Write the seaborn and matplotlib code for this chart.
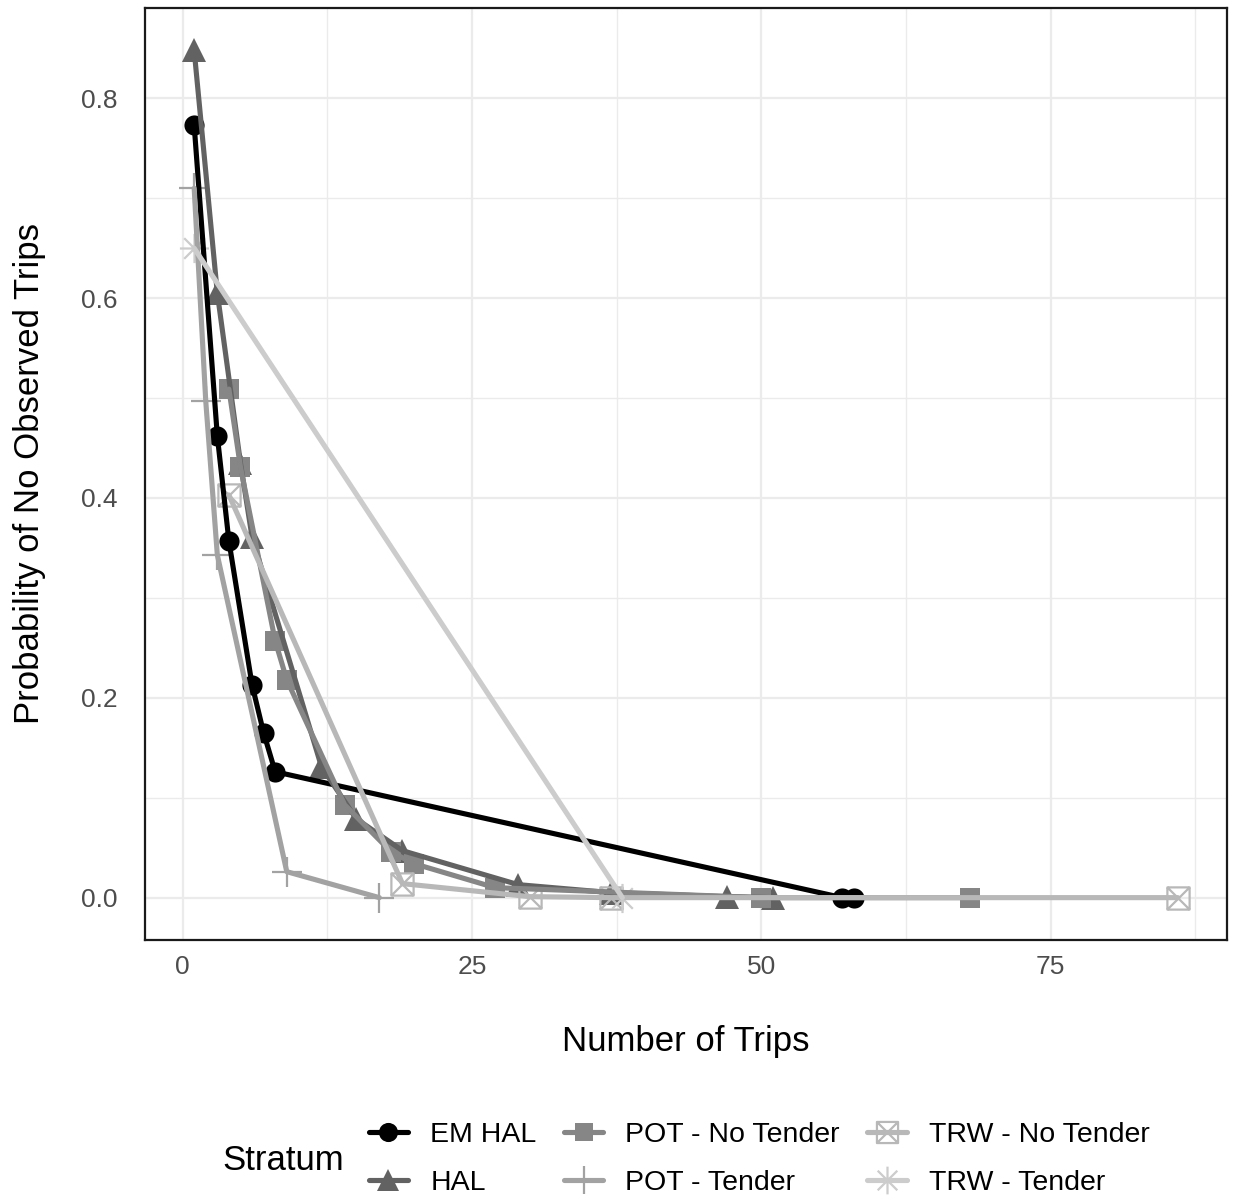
import numpy as np
import pandas as pd
import matplotlib
matplotlib.use("Agg")
import matplotlib.pyplot as plt
from matplotlib.path import Path
from matplotlib.lines import Line2D
from matplotlib.ticker import FixedLocator
import seaborn as sns

# ---- data -------------------------------------------------------------
strata = ["EM HAL", "HAL", "POT - No Tender", "POT - Tender",
          "TRW - No Tender", "TRW - Tender"]

em_hal_trips = [1, 3, 4, 6, 7, 8, 57, 58]
em_hal_prob = [0.773, 0.462, 0.357, 0.213, 0.165, 0.126, 0.0, 0.0]

hal_trips = [1, 3, 5, 6, 12, 15, 19, 29, 37, 47, 51]
hal_prob = [0.848, 0.605, 0.435, 0.361, 0.131, 0.079, 0.047, 0.013, 0.005, 0.001, 0.0]

pot_nt_trips = [4, 5, 8, 9, 14, 18, 20, 27, 50, 68]
pot_nt_prob = [0.509, 0.431, 0.257, 0.218, 0.093, 0.046, 0.034, 0.010, 0.0, 0.0]

pot_t_trips = [1, 2, 3, 9, 17]
pot_t_prob = [0.710, 0.497, 0.343, 0.026, 0.0]

trw_nt_trips = [4, 19, 30, 37, 86]
trw_nt_prob = [0.403, 0.014, 0.001, 0.0, 0.0]

trw_t_trips = [1, 38]
trw_t_prob = [0.650, 0.0]

x_ticks = [0, 25, 50, 75]
y_ticks = [0.0, 0.2, 0.4, 0.6, 0.8]
x_tick_labels = ["0", "25", "50", "75"]
y_tick_labels = ["0.0", "0.2", "0.4", "0.6", "0.8"]

trips = [em_hal_trips, hal_trips, pot_nt_trips, pot_t_trips, trw_nt_trips, trw_t_trips]
probs = [em_hal_prob, hal_prob, pot_nt_prob, pot_t_prob, trw_nt_prob, trw_t_prob]

df = pd.concat(
    [pd.DataFrame({"Trips": t, "Prob": p, "Stratum": s})
     for s, t, p in zip(strata, trips, probs)],
    ignore_index=True,
)

# ---- styling ----------------------------------------------------------
greys = ["#000000", "#626262", "#868686", "#A2A2A2", "#B8B8B8", "#CCCCCC"]
palette = dict(zip(strata, greys))

# square with a cross, and an eight-armed asterisk
box_x = Path(
    [(-1, -1), (1, -1), (1, 1), (-1, 1), (-1, -1),
     (-1, -1), (1, 1), (-1, 1), (1, -1)],
    [Path.MOVETO, Path.LINETO, Path.LINETO, Path.LINETO, Path.CLOSEPOLY,
     Path.MOVETO, Path.LINETO, Path.MOVETO, Path.LINETO],
)
r = 0.7071
aster = Path(
    [(-1, 0), (1, 0), (0, -1), (0, 1), (-r, -r), (r, r), (-r, r), (r, -r)],
    [Path.MOVETO, Path.LINETO] * 4,
)

marker_spec = {
    "EM HAL": dict(marker="o", ms=14.5, filled=True),
    "HAL": dict(marker="^", ms=17, filled=True),
    "POT - No Tender": dict(marker="s", ms=14, filled=True),
    "POT - Tender": dict(marker="+", ms=21, filled=False),
    "TRW - No Tender": dict(marker=box_x, ms=16, filled=False),
    "TRW - Tender": dict(marker=aster, ms=21, filled=False),
}

sns.set_theme(style="white")
plt.rcParams["font.family"] = ["Liberation Sans", "DejaVu Sans"]
plt.rcParams["text.color"] = "black"

W, H = 1235, 1201
fig = plt.figure(figsize=(W / 100, H / 100), dpi=100)
ax = fig.add_axes([145 / W, 1 - 940 / H, (1227 - 145) / W, (940 - 8) / H])

LW = 3.7

# points underneath, lines on top
for s in strata:
    sub = df[df["Stratum"] == s]
    spec = marker_spec[s]
    c = palette[s]
    ax.plot(sub["Trips"], sub["Prob"], linestyle="none",
            marker=spec["marker"], ms=spec["ms"],
            mfc=c if spec["filled"] else "none", mec=c,
            mew=0 if spec["filled"] else 1.6, zorder=2, clip_on=False)

sns.lineplot(data=df, x="Trips", y="Prob", hue="Stratum", hue_order=strata,
             palette=palette, estimator=None, sort=True, linewidth=LW,
             legend=False, ax=ax, zorder=3)

# axes, grid
ax.set_xlim(-3.25, 90.25)
ax.set_ylim(-0.0424, 0.8904)
ax.xaxis.set_major_locator(FixedLocator(x_ticks))
ax.xaxis.set_minor_locator(FixedLocator([12.5, 37.5, 62.5, 87.5]))
ax.yaxis.set_major_locator(FixedLocator(y_ticks))
ax.yaxis.set_minor_locator(FixedLocator([0.1, 0.3, 0.5, 0.7]))
ax.set_xticklabels(x_tick_labels)
ax.set_yticklabels(y_tick_labels)
ax.grid(True, which="major", color="#EBEBEB", linewidth=1.6, zorder=0)
ax.grid(True, which="minor", color="#EBEBEB", linewidth=1.0, zorder=0)
ax.set_axisbelow(True)
for sp in ax.spines.values():
    sp.set_color("#1A1A1A")
    sp.set_linewidth(1.6)
ax.tick_params(axis="both", which="major", length=5, width=1.4,
               color="#333333", labelcolor="#4D4D4D", labelsize=19)
ax.tick_params(axis="x", which="major", pad=6)
ax.tick_params(axis="y", which="major", pad=15)
ax.tick_params(axis="both", which="minor", length=0)
ax.set_xlabel("")
ax.set_ylabel("")

fig.text(686 / W, 1 - 1042 / H, "Number of Trips", fontsize=25,
         ha="center", va="center", color="black")
fig.text(30 / W, 1 - 474 / H, "Probability of No Observed Trips", fontsize=25,
         ha="center", va="center", rotation=90, color="black")

# legend
handles = []
for s in strata:
    spec = marker_spec[s]
    c = palette[s]
    handles.append(Line2D([], [], color=c, lw=LW, marker=spec["marker"],
                          ms=spec["ms"] * 0.95,
                          mfc=c if spec["filled"] else "none", mec=c,
                          mew=0 if spec["filled"] else 1.6))
leg = fig.legend(handles, strata, loc="center",
                 bbox_to_anchor=(759 / W, 1 - 1159 / H),
                 ncol=3, frameon=False, fontsize=20.5, handlelength=1.4,
                 handletextpad=0.77, columnspacing=0.95, labelspacing=0.77,
                 borderpad=0)
for t in leg.get_texts():
    t.set_color("black")
fig.text(222 / W, 1 - 1160 / H, "Stratum", fontsize=25, ha="left",
         va="center", color="black")

fig.savefig("out.png", dpi=100)
